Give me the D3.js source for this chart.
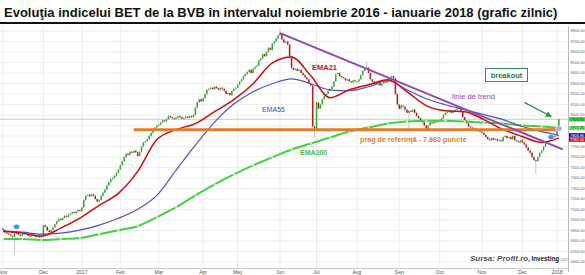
<!DOCTYPE html>
<html>
<head>
<meta charset="utf-8">
<script src="https://cdn.jsdelivr.net/npm/d3@7"></script>
<style>
  body { margin: 0; background: #fff; }
  svg { display: block; font-family: "Liberation Sans", Arial, sans-serif; }
</style>
</head>
<body>
<svg id="chart" width="585" height="275"></svg>
<script>
// luni afisate pe axa X (prima zi de tranzactionare a fiecarei luni)
const monthLabels = ["Nov", "Dec", "2017", "Feb", "Mar", "Apr", "May", "Jun", "Jul", "Aug", "Sep", "Oct", "Nov", "Dec", "2018"];

// inchideri zilnice BET, grupate pe luni
const closesByMonth = [
  [6905, 6880, 6870, 6860, 6850, 6840, 6870, 6885, 6860, 6850, 6865, 6880, 6870, 6850, 6845, 6860, 6855, 6840, 6850, 6835, 6845],
  [6950, 6935, 6900, 6885, 6905, 6930, 6960, 6990, 7010, 7000, 7020, 7040, 7030, 7050, 7060, 7075, 7065, 7080, 7095, 7085],
  [7120, 7190, 7230, 7240, 7225, 7245, 7230, 7200, 7175, 7190, 7230, 7260, 7290, 7330, 7360, 7390, 7400, 7420, 7450, 7480],
  [7520, 7560, 7600, 7630, 7620, 7650, 7640, 7660, 7645, 7610, 7650, 7700, 7740, 7750, 7770, 7800, 7830, 7860, 7880, 7900],
  [7910, 7930, 7950, 7940, 7960, 7990, 7980, 7970, 7960, 7975, 7990, 7980, 7965, 7970, 7985, 7975, 7990, 7980, 8000, 8070, 8120, 8150, 8130],
  [8160, 8200, 8240, 8250, 8260, 8245, 8270, 8255, 8240, 8260, 8250, 8230, 8200, 8210, 8190, 8230, 8250, 8260],
  [8290, 8320, 8340, 8370, 8390, 8410, 8430, 8400, 8440, 8460, 8470, 8520, 8540, 8580, 8560, 8600, 8640, 8620, 8680, 8700, 8730, 8760],
  [8780, 8720, 8690, 8700, 8670, 8560, 8450, 8430, 8440, 8420, 8430, 8400, 8380, 8360, 8340, 8300, 8280, 7890, 7870],
  [8120, 8060, 8100, 8150, 8180, 8200, 8230, 8250, 8270, 8320, 8390, 8400, 8370, 8360, 8350, 8330, 8340, 8320, 8310, 8330, 8320],
  [8320, 8340, 8380, 8420, 8440, 8450, 8400, 8340, 8320, 8300, 8290, 8310, 8280, 8300, 8320, 8310, 8340, 8360, 8370, 8350, 8200, 8100],
  [8060, 8090, 8080, 8050, 8020, 8040, 8030, 8050, 8020, 7990, 7970, 7950, 7930, 7900, 7870, 7900, 7930, 7920, 7940, 7930, 7950],
  [7950, 7970, 8000, 8020, 8030, 8040, 8020, 8030, 8050, 8060, 8070, 8040, 7980, 7950, 7920, 7890, 7880, 7860, 7870, 7850, 7860, 7840],
  [7830, 7810, 7790, 7770, 7760, 7780, 7765, 7770, 7755, 7760, 7750, 7790, 7800, 7780, 7790, 7770, 7800, 7760, 7750, 7740, 7760],
  [7740, 7720, 7690, 7660, 7640, 7600, 7570, 7560, 7600, 7640, 7660, 7700, 7730, 7750, 7760, 7780, 7790, 7800],
  [7880, 7958.96]
];
const firstOpen = 6920;

// umbre lungi vizibile (index zi, minim, maxim)
const wickIdx  = [6,    144,  162,  189,  211,  277];
const wickLow  = [6680, null, 7790, null, 7860, 7440];
const wickHigh = [null, 8810, null, 8500, null, null];

// medii mobile exponentiale
const emaIdx = [0, 10, 20, 30, 40, 50, 60, 70, 80, 90, 100, 110, 120, 130, 140, 150, 160, 170, 180, 190, 200, 210, 220, 230, 240, 250, 260, 270, 280, 289];
const ema21  = [6894, 6875, 6847, 6922, 7017, 7140, 7254, 7463, 7766, 7861, 7918, 8032, 8146, 8298, 8497, 8553, 8373, 8165, 8240, 8288, 8335, 8222, 8089, 8041, 8032, 7956, 7861, 7795, 7738, 7782.14];
const ema55  = [6894, 6884, 6865, 6875, 6903, 6951, 7017, 7103, 7235, 7475, 7713, 7932, 8104, 8222, 8298, 8345, 8298, 8240, 8231, 8269, 8326, 8240, 8155, 8098, 8051, 8003, 7956, 7890, 7842, 7806.96];
const ema200 = [6818, 6818, 6809, 6818, 6828, 6865, 6903, 6941, 7027, 7122, 7235, 7340, 7434, 7520, 7596, 7672, 7728, 7785, 7842, 7880, 7918, 7937, 7946, 7946, 7937, 7928, 7918, 7899, 7890, 7875.26];

// valorile din casutele din dreapta
const lastValues = [7958.96, 7875.26, 7806.96, 7782.14];
const lastColors = ["#3fd13f", "#7be27b", "#1c1ca8", "#d01010"];
const lastText   = ["#063", "#063", "#fff", "#fff"];

// linia de trend si pragul de referinta
const trendIdx = [144, 291];
const trendVal = [8780, 7672];
const pragLevel = 7860;
const pragIdx = [68, 288];

// marcaje de evenimente
const markIdx = [7, 285, 289];
const markVal = [6935, 7790, 7870];

// sageata breakout
const arrowIdx = [271, 285];
const arrowVal = [8120, 7985];

const yTicks = [6600, 6700, 6800, 6900, 7000, 7100, 7200, 7300, 7400, 7500, 7600, 7700,
                7800, 7900, 8000, 8100, 8200, 8300, 8400, 8500, 8600, 8700, 8800];

const svg = d3.select("#chart");
const W = 585, plotRight = 568, plotTop = 26, plotBottom = 268;

const closes = closesByMonth.flat();
const monthStart = [];
let acc = 0;
closesByMonth.forEach(m => { monthStart.push(acc); acc += m.length; });

const candles = closes.map((c, i) => {
  const o = i === 0 ? firstOpen : closes[i - 1];
  let lo = Math.min(o, c), hi = Math.max(o, c);
  const k = wickIdx.indexOf(i);
  if (k >= 0) {
    if (wickLow[k] != null) lo = wickLow[k];
    if (wickHigh[k] != null) hi = wickHigh[k];
  }
  return { i, o, c, lo, hi };
});

const x = d3.scaleLinear().domain([0, 288]).range([3, 557]);
const y = d3.scaleLinear().domain([6600, 8800]).range([262, 31]);

// titlu
svg.append("text")
  .attr("x", 4).attr("y", 17)
  .attr("font-size", 13).attr("font-weight", "bold").attr("fill", "#111")
  .text("Evoluţia indicelui BET de la BVB în intervalul noiembrie 2016 - ianuarie 2018 (grafic zilnic)");

svg.append("rect")
  .attr("x", 0).attr("y", 22).attr("width", W).attr("height", 2)
  .attr("fill", "#111");

svg.append("clipPath").attr("id", "plot")
  .append("rect").attr("x", 0).attr("y", plotTop)
  .attr("width", plotRight).attr("height", plotBottom - plotTop);

const grid = svg.append("g");
grid.selectAll(".hg").data(yTicks).enter().append("line")
  .attr("x1", 0).attr("x2", plotRight)
  .attr("y1", d => y(d)).attr("y2", d => y(d))
  .attr("stroke", "#efefef").attr("stroke-width", 1);
grid.selectAll(".vg").data(monthStart).enter().append("line")
  .attr("x1", d => x(d)).attr("x2", d => x(d))
  .attr("y1", plotTop).attr("y2", plotBottom)
  .attr("stroke", "#ececec").attr("stroke-width", 1);

// axe
svg.append("line")
  .attr("x1", plotRight + 0.5).attr("x2", plotRight + 0.5)
  .attr("y1", plotTop).attr("y2", plotBottom + 4)
  .attr("stroke", "#bbb");
svg.append("line")
  .attr("x1", 0).attr("x2", plotRight)
  .attr("y1", plotBottom + 0.5).attr("y2", plotBottom + 0.5)
  .attr("stroke", "#ccc");

// casutele cu ultimele valori, asezate fara suprapunere
const boxY = lastValues.map(v => y(v));
for (let i = 1; i < boxY.length; i++) {
  if (boxY[i] - boxY[i - 1] < 4.4) boxY[i] = boxY[i - 1] + 4.4;
}

const freeTicks = yTicks.filter(t => boxY.every(b => Math.abs(y(t) - b) > 4.2));
svg.append("g").selectAll("text").data(freeTicks).enter().append("text")
  .attr("x", 570.5).attr("y", d => y(d) + 1.4)
  .attr("font-size", 3.9).attr("fill", "#666")
  .text(d => d3.format(".2f")(d));

svg.append("g").selectAll("text").data(monthStart).enter().append("text")
  .attr("x", d => x(d)).attr("y", 274)
  .attr("text-anchor", "middle")
  .attr("font-size", 5).attr("fill", "#555")
  .text((d, i) => monthLabels[i]);

const plot = svg.append("g").attr("clip-path", "url(#plot)");

// linia pretului curent
plot.append("line")
  .attr("x1", 0).attr("x2", plotRight)
  .attr("y1", y(closes[closes.length - 1])).attr("y2", y(closes[closes.length - 1]))
  .attr("stroke", "#a6e6a6").attr("stroke-width", 1);

// lumanari
const bw = 1.5;
const cg = plot.append("g");
cg.selectAll(".wick").data(candles).enter().append("line")
  .attr("x1", d => x(d.i)).attr("x2", d => x(d.i))
  .attr("y1", d => y(d.hi) - 0.8).attr("y2", d => y(d.lo) + 0.8)
  .attr("stroke", "#aaa").attr("stroke-width", 0.6);
cg.selectAll(".body").data(candles).enter().append("rect")
  .attr("x", d => x(d.i) - bw / 2)
  .attr("y", d => y(Math.max(d.o, d.c)))
  .attr("width", bw)
  .attr("height", d => Math.max(1, Math.abs(y(d.o) - y(d.c))))
  .attr("fill", d => d.c >= d.o ? "#36a836" : "#b51c1c");

const emaLine = d3.line()
  .x((d, i) => x(emaIdx[i]))
  .y(d => y(d))
  .curve(d3.curveMonotoneX);

plot.append("path").datum(ema200).attr("d", emaLine)
  .attr("fill", "none").attr("stroke", "#3fd43f").attr("stroke-width", 2);
plot.selectAll(".dot200").data(ema200).enter().append("circle")
  .attr("cx", (d, i) => x(emaIdx[i])).attr("cy", d => y(d))
  .attr("r", 1.1).attr("fill", "#e4e4e4");
plot.append("path").datum(ema55).attr("d", emaLine)
  .attr("fill", "none").attr("stroke", "#5050cc").attr("stroke-width", 1.2);
plot.append("path").datum(ema21).attr("d", emaLine)
  .attr("fill", "none").attr("stroke", "#d20a0a").attr("stroke-width", 1.5);

// prag de referinta
plot.append("line")
  .attr("x1", x(pragIdx[0])).attr("x2", x(pragIdx[1]))
  .attr("y1", y(pragLevel)).attr("y2", y(pragLevel))
  .attr("stroke", "#df7d2a").attr("stroke-width", 3);

// linie de trend
plot.append("line")
  .attr("x1", x(trendIdx[0])).attr("x2", x(trendIdx[1]))
  .attr("y1", y(trendVal[0])).attr("y2", y(trendVal[1]))
  .attr("stroke", "#9146b4").attr("stroke-width", 2);

// marcaje
plot.selectAll(".mark").data(markIdx).enter().append("ellipse")
  .attr("cx", d => x(d)).attr("cy", (d, i) => y(markVal[i]))
  .attr("rx", 3.2).attr("ry", 2.6)
  .attr("fill", (d, i) => i === 2 ? "#9fb6c8" : "#3a9be0")
  .attr("stroke", "#fff").attr("stroke-width", 0.5);

// etichete
const lab = svg.append("g");
lab.append("text").attr("x", 312).attr("y", 70)
  .attr("font-size", 7.5).attr("font-weight", "bold").attr("fill", "#c81414").text("EMA21");
lab.append("text").attr("x", 262).attr("y", 112)
  .attr("font-size", 7).attr("fill", "#4a4ac0").text("EMA55");
lab.append("text").attr("x", 300).attr("y", 155)
  .attr("font-size", 7).attr("font-weight", "bold").attr("fill", "#3fc43f").text("EMA200");
lab.append("text").attr("x", 452).attr("y", 99)
  .attr("font-size", 7.5).attr("fill", "#9146b4").text("linie de trend");
lab.append("text").attr("x", 360).attr("y", 142)
  .attr("font-size", 7.2).attr("font-weight", "bold").attr("fill", "#df7d2a")
  .text("prag de referinţă - 7.860 puncte");

// breakout
lab.append("rect").attr("x", 485.5).attr("y", 68.5).attr("width", 42).attr("height", 13)
  .attr("fill", "#fff").attr("stroke", "#2f8f4f").attr("stroke-width", 1);
lab.append("text").attr("x", 506.5).attr("y", 78)
  .attr("text-anchor", "middle")
  .attr("font-size", 7.5).attr("font-weight", "bold").attr("fill", "#1f7a3f").text("breakout");

svg.append("defs").append("marker")
  .attr("id", "arr").attr("viewBox", "0 0 10 10")
  .attr("refX", 9).attr("refY", 5)
  .attr("markerWidth", 5).attr("markerHeight", 5)
  .attr("orient", "auto")
  .append("path").attr("d", "M0,0 L10,5 L0,10 z").attr("fill", "#2f8f3f");
lab.append("line")
  .attr("x1", x(arrowIdx[0])).attr("y1", y(arrowVal[0]))
  .attr("x2", x(arrowIdx[1])).attr("y2", y(arrowVal[1]))
  .attr("stroke", "#2f8f3f").attr("stroke-width", 1.2)
  .attr("marker-end", "url(#arr)");

const boxes = svg.append("g");
lastValues.forEach((v, i) => {
  boxes.append("rect").attr("x", 569).attr("y", boxY[i] - 2.2)
    .attr("width", 16).attr("height", 4.4).attr("fill", lastColors[i]);
  boxes.append("text").attr("x", 570.5).attr("y", boxY[i] + 1.3)
    .attr("font-size", 3.7).attr("fill", lastText[i])
    .text(d3.format(".2f")(v));
});

// sursa
svg.append("text").attr("x", 470).attr("y", 261)
  .attr("font-size", 8).attr("font-style", "italic").attr("font-weight", "bold")
  .attr("fill", "#555").text("Sursa: Profit.ro,");
const inv = svg.append("text").attr("x", 531.5).attr("y", 261);
inv.append("tspan").attr("font-size", 6.3).attr("font-weight", "bold").attr("fill", "#222").text("Investing");
inv.append("tspan").attr("font-size", 4.5).attr("fill", "#999").text(".com");
</script>
</body>
</html>
